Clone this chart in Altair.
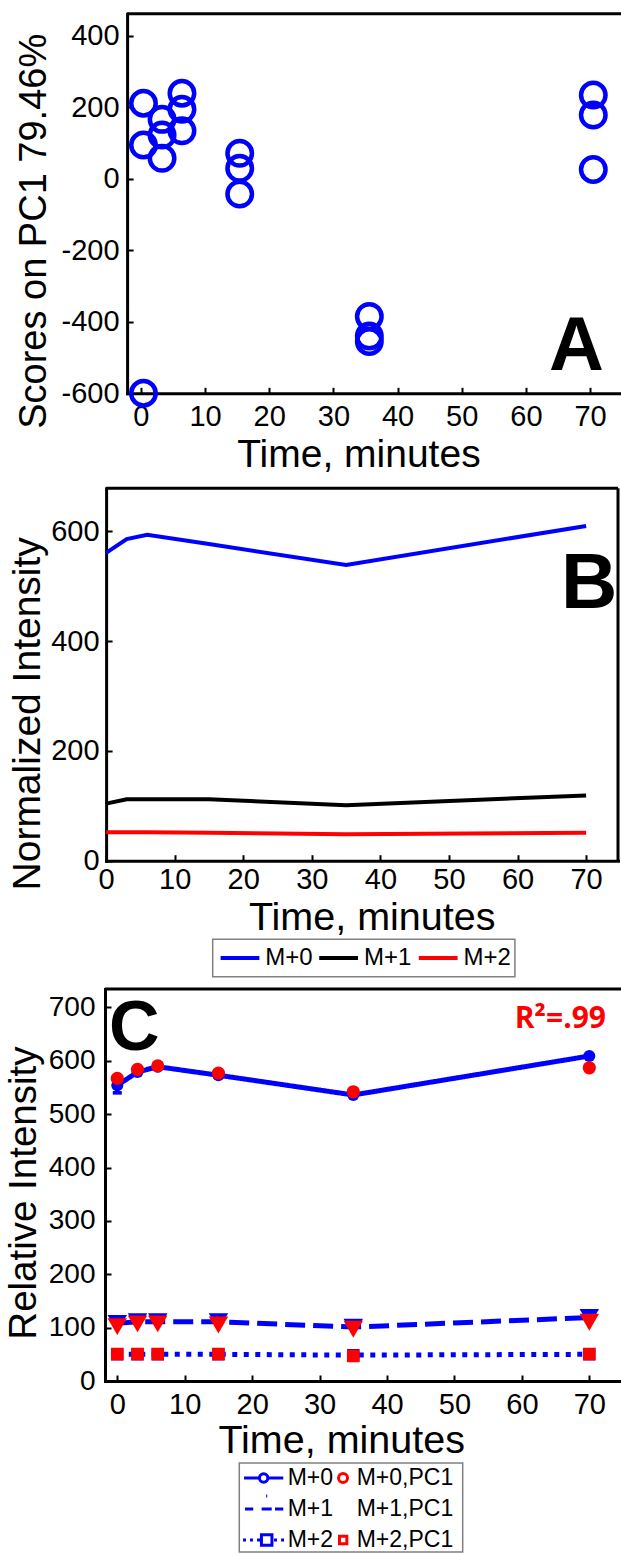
import altair as alt
import pandas as pd

CANVAS_W, CANVAS_H = 621, 1554
FONT = "Liberation Sans"
BLUE, RED, BLACK = "#0000ff", "#ff0000", "#000000"

# ---------------- Panel A: PCA scores ----------------
a_time = [0.4, 0.4, 0.4, 3.3, 3.3, 3.3, 6.4, 6.4, 6.4, 15.4, 15.4, 15.4,
          35.6, 35.6, 35.6, 70.5, 70.5, 70.5]
a_score = [211, 94, -600, 166, 122, 57, 239, 194, 134, 71, 29, -43,
           -385, -440, -455, 234, 178, 26]
a_xticks = [0, 10, 20, 30, 40, 50, 60, 70]
a_yticks = [-600, -400, -200, 0, 200, 400]

# ---------------- Panel B: normalized intensity ----------------
b_time = [0, 3, 6, 15, 35, 70]
b_m0 = [561, 586, 594, 577, 539, 610]
b_m1 = [104, 112, 112, 112, 101, 119]
b_m2 = [52, 52, 52, 51, 48, 51]
b_series = ["M+0", "M+1", "M+2"]
b_colors = [BLUE, BLACK, RED]
b_xticks = [0, 10, 20, 30, 40, 50, 60, 70]
b_yticks = [0, 200, 400, 600]

# ---------------- Panel C: relative intensity ----------------
c_time = [0, 3, 6, 15, 35, 70]
c_m0 = [554, 579, 589, 573, 536, 609]
c_m1 = [108, 111, 111, 111, 101, 119]
c_m2 = [50, 50, 50, 50, 48.5, 50]
c_pc1_m0 = [567, 584, 590.5, 577, 542, 587]
c_pc1_m1 = [102, 107, 107, 105, 97, 110]
c_pc1_m2 = [50.5, 50.5, 50.5, 50.5, 47, 50.5]
c_err_time = [0]
c_err_low = [540]
c_err_high = [572]
c_xticks = [0, 10, 20, 30, 40, 50, 60, 70]
c_yticks = [0, 100, 200, 300, 400, 500, 600, 700]

# legend of panel C: rows (measured, PC1 model)
c_legend_rows = [["M+0", "M+0,PC1"], ["M+1", "M+1,PC1"], ["M+2", "M+2,PC1"]]
c_legend_colors = [BLUE, RED]
c_legend_paths = [
    ["M-1.87,0H-0.4M0.4,0H1.87M0.4,0A0.4,0.4 0 1,1 -0.4,0A0.4,0.4 0 1,1 0.4,0",
     "M1.42,0A0.43,0.43 0 1,1 0.56,0A0.43,0.43 0 1,1 1.42,0"],
    ["M-1.78,0H-0.99M-0.19,0H0.77M1.08,0H1.87M0.24,-1.24H0.34",
     "M0,0"],
    ["M-1.96,0H-1.68M-1.30,0H-1.02M-0.63,0H-0.35M-0.21,-0.5H0.79V0.5H-0.21ZM0.99,0H1.27M1.66,0H1.94",
     "M0.65,-0.35H1.35V0.35H0.65Z"],
]

# ---------------- pixel geometry of the three plot areas ----------------
GEO = {
    "A": dict(xd=[-2.15, 74.82], xr=[127.1, 621], yd=[-600, 461.5], yr=[393.3, 13.7]),
    "B": dict(xd=[0, 74.65], xr=[106.1, 618], yd=[0, 678.6], yr=[860.7, 488.3]),
    "C": dict(xd=[-1.82, 74.7], xr=[105, 621], yd=[0, 734.6], yr=[1381, 989]),
}


def xq(p, field, axis=None):
    g = GEO[p]
    return alt.X(f"{field}:Q", scale=alt.Scale(domain=g["xd"], range=g["xr"], nice=False, zero=False),
                 axis=axis)


def yq(p, field, axis=None):
    g = GEO[p]
    return alt.Y(f"{field}:Q", scale=alt.Scale(domain=g["yd"], range=g["yr"], nice=False, zero=False),
                 axis=axis)


def ax_left(p, values, title, tx, ty, tsize, lpad, lsize=29):
    x0 = GEO[p]["xr"][0]
    return alt.Axis(orient="left", offset=-x0, values=values, labelExpr="'' + datum.value",
                    labelFont=FONT, labelFontSize=lsize, labelColor=BLACK, labelPadding=lpad,
                    labelFlush=False, labelOverlap=False, labelLimit=300,
                    ticks=False, tickSize=0, domain=True, domainColor=BLACK, domainWidth=3,
                    domainCap="square", grid=False,
                    title=title, titleFont=FONT, titleFontSize=tsize, titleFontWeight="normal",
                    titleColor=BLACK, titleAngle=270, titleAlign="center", titleBaseline="alphabetic",
                    titleX=tx - x0, titleY=ty, titleLimit=1000, titlePadding=0)


def ax_bottom(p, values, title, tx, ty, tsize, lpad, lsize=29):
    yb = GEO[p]["yr"][0]
    return alt.Axis(orient="bottom", offset=yb - CANVAS_H, values=values, labelExpr="'' + datum.value",
                    labelFont=FONT, labelFontSize=lsize, labelColor=BLACK, labelPadding=lpad,
                    labelFlush=False, labelOverlap=False, labelLimit=300,
                    ticks=False, tickSize=0, domain=True, domainColor=BLACK, domainWidth=3,
                    domainCap="square", grid=False,
                    title=title, titleFont=FONT, titleFontSize=tsize, titleFontWeight="normal",
                    titleColor=BLACK, titleAngle=0, titleAlign="center", titleBaseline="alphabetic",
                    titleX=tx, titleY=ty - yb, titleLimit=1000, titlePadding=0)


def ax_ticks_y(p, values):
    x0 = GEO[p]["xr"][0]
    return alt.Axis(orient="right", offset=x0 - CANVAS_W, values=values, labels=False, domain=False,
                    ticks=True, tickSize=6, tickWidth=2, tickColor=BLACK, grid=False, title=None)


def ax_ticks_x(p, values):
    yb = GEO[p]["yr"][0]
    return alt.Axis(orient="top", offset=-yb, values=values, labels=False, domain=False,
                    ticks=True, tickSize=6, tickWidth=2, tickColor=BLACK, grid=False, title=None)


def one_row():
    return alt.Data(values=[{"k": 1}])


def frame_h(x1, x2, y):
    return alt.Chart(one_row()).mark_rule(color=BLACK, strokeWidth=3).encode(
        x=alt.value(x1), x2=alt.value(x2), y=alt.value(y))


def frame_v(x, y1, y2):
    return alt.Chart(one_row()).mark_rule(color=BLACK, strokeWidth=3).encode(
        x=alt.value(x), y=alt.value(y1), y2=alt.value(y2))


def legend_box(x1, x2, y1, y2):
    return alt.Chart(one_row()).mark_rect(fill="white", stroke="#808080", strokeWidth=1.5).encode(
        x=alt.value(x1), x2=alt.value(x2), y=alt.value(y1), y2=alt.value(y2))


def label(txt, x, y, size, font=FONT, color=BLACK, align="left"):
    return alt.Chart(alt.Data(values=[{"txt": txt}])).mark_text(
        font=font, fontSize=size, fontWeight="bold", color=color, align=align, baseline="alphabetic"
    ).encode(x=alt.value(x), y=alt.value(y), text="txt:N")


def legend_entry(entry, color, path, lx, ly, size, stroke, font_size, offset):
    """A single legend entry drawn by Vega's legend from its own shape/colour scale."""
    lg = alt.Legend(orient="none", legendX=lx, legendY=ly, direction="horizontal", title=None,
                    labelFont=FONT, labelFontSize=font_size, labelColor=BLACK, labelOffset=offset,
                    padding=0, symbolSize=size, symbolStrokeWidth=stroke, symbolOpacity=1,
                    labelLimit=300)
    return (alt.Chart(alt.Data(values=[])).mark_point(filled=False, size=size, strokeWidth=stroke, opacity=1)
            .encode(shape=alt.Shape("entry:N", scale=alt.Scale(domain=[entry], range=[path]), legend=lg),
                    color=alt.Color("entry:N", scale=alt.Scale(domain=[entry], range=[color]), legend=lg)))


layers = []

# ======== Panel A ========
dfA = pd.DataFrame({"t": a_time, "v": a_score})
layers.append(
    alt.Chart(dfA).mark_point(shape="circle", filled=False, size=600, strokeWidth=4.5, color=BLUE, opacity=1)
    .encode(x=xq("A", "t", ax_bottom("A", a_xticks, "Time, minutes", 358.4, 466.7, 39, 9)),
            y=yq("A", "v", ax_left("A", a_yticks, "Scores on PC1 79.46%", 45, 230.8, 38, 8))))
layers.append(
    alt.Chart(dfA).mark_point(opacity=0)
    .encode(x=xq("A", "t", ax_ticks_x("A", a_xticks)), y=yq("A", "v", ax_ticks_y("A", a_yticks))))
layers.append(frame_h(127.1, 621, 13.7))
layers.append(label("A", 549, 370, 76))

# ======== Panel B ========
dfB = pd.DataFrame({
    "t": b_time * 3,
    "v": b_m0 + b_m1 + b_m2,
    "series": [b_series[0]] * 6 + [b_series[1]] * 6 + [b_series[2]] * 6,
})
layers.append(
    alt.Chart(dfB).mark_line(strokeWidth=4)
    .encode(x=xq("B", "t", ax_bottom("B", b_xticks, "Time, minutes", 371.7, 929, 39.5, 5)),
            y=yq("B", "v", ax_left("B", b_yticks, "Normalized Intensity", 39.3, 713.3, 39, 7)),
            color=alt.Color("series:N", scale=alt.Scale(domain=b_series, range=b_colors), legend=None)))
layers.append(
    alt.Chart(dfB).mark_point(opacity=0)
    .encode(x=xq("B", "t", ax_ticks_x("B", b_xticks)), y=yq("B", "v", ax_ticks_y("B", b_yticks))))
layers.append(frame_h(106.1, 618, 488.3))
layers.append(frame_v(618, 488.3, 860.7))
layers.append(label("B", 561, 608, 78))

# legend of panel B
layers.append(legend_box(212.7, 514.9, 939.3, 976.7))
for name, col, lx in zip(b_series, b_colors, [228.0, 326.6, 426.2]):
    layers.append(legend_entry(name, col, "M-2.04,0H2.04", lx, 946, 361, 4, 24, 13.3))

# ======== Panel C ========
dfC = pd.DataFrame({
    "t": c_time * 3,
    "v": c_m0 + c_m1 + c_m2,
    "series": [b_series[0]] * 6 + [b_series[1]] * 6 + [b_series[2]] * 6,
})
layers.append(
    alt.Chart(dfC).mark_line(color=BLUE, strokeWidth=5)
    .encode(x=xq("C", "t", ax_bottom("C", c_xticks, "Time, minutes", 341.2, 1452.3, 39.5, 9)),
            y=yq("C", "v", ax_left("C", c_yticks, "Relative Intensity", 35, 1192.6, 38.5, 10, 28)),
            strokeDash=alt.StrokeDash("series:N", scale=alt.Scale(domain=b_series,
                                                                  range=[[1, 0], [20, 8], [5, 6.5]]),
                                      legend=None),
            detail="series:N"))
layers.append(
    alt.Chart(dfC).mark_point(opacity=0)
    .encode(x=xq("C", "t", ax_ticks_x("C", c_xticks)), y=yq("C", "v", ax_ticks_y("C", c_yticks))))

dfErr = pd.DataFrame({"t": c_err_time, "lo": c_err_low, "hi": c_err_high})
layers.append(alt.Chart(dfErr).mark_rule(color=BLUE, strokeWidth=4)
              .encode(x=xq("C", "t"), y=yq("C", "lo"), y2="hi:Q"))
layers.append(alt.Chart(dfErr).mark_point(shape="M-1,-0.4H1V0.4H-1Z", filled=True, size=81, color=BLUE,
                                          opacity=1)
              .encode(x=xq("C", "t"), y=yq("C", "lo")))


def c_points(vals, shape, size, color):
    df = pd.DataFrame({"t": c_time, "v": vals})
    return alt.Chart(df).mark_point(shape=shape, filled=True, size=size, color=color, opacity=1,
                                    strokeWidth=0).encode(x=xq("C", "t"), y=yq("C", "v"))


layers.append(c_points(c_m0, "circle", 144, BLUE))
layers.append(c_points(c_m1, "triangle-down", 380, BLUE))
layers.append(c_points(c_m2, "square", 150, BLUE))
layers.append(c_points(c_pc1_m0, "circle", 175, RED))
layers.append(c_points(c_pc1_m1, "triangle-down", 380, RED))
layers.append(c_points(c_pc1_m2, "square", 160, RED))

layers.append(frame_h(105, 621, 989))
layers.append(label("C", 109, 1050, 70))
layers.append(label("R\u00b2=.99", 606, 1028, 30, font="Open Sans", color=RED, align="right"))

# legend of panel C
layers.append(legend_box(239.3, 462.7, 1463, 1552))
for entries, paths, top in zip(c_legend_rows, c_legend_paths, [1466, 1497, 1528]):
    for entry, path, col, lx in zip(entries, paths, c_legend_colors, [251.65, 320.65]):
        layers.append(legend_entry(entry, col, path, lx, top, 441, 3, 23, 12.05))

chart = (
    alt.layer(*layers)
    .properties(width=CANVAS_W, height=CANVAS_H, padding=0,
                autosize=alt.AutoSizeParams(type="none"), background="white")
    .resolve_scale(x="independent", y="independent", color="independent", shape="independent",
                   strokeDash="independent")
    .resolve_axis(x="independent", y="independent")
    .resolve_legend(color="independent", shape="independent", strokeDash="independent")
    .configure_view(stroke=None)
)

chart.save("out.html", embed_options={"renderer": "svg", "actions": False})
